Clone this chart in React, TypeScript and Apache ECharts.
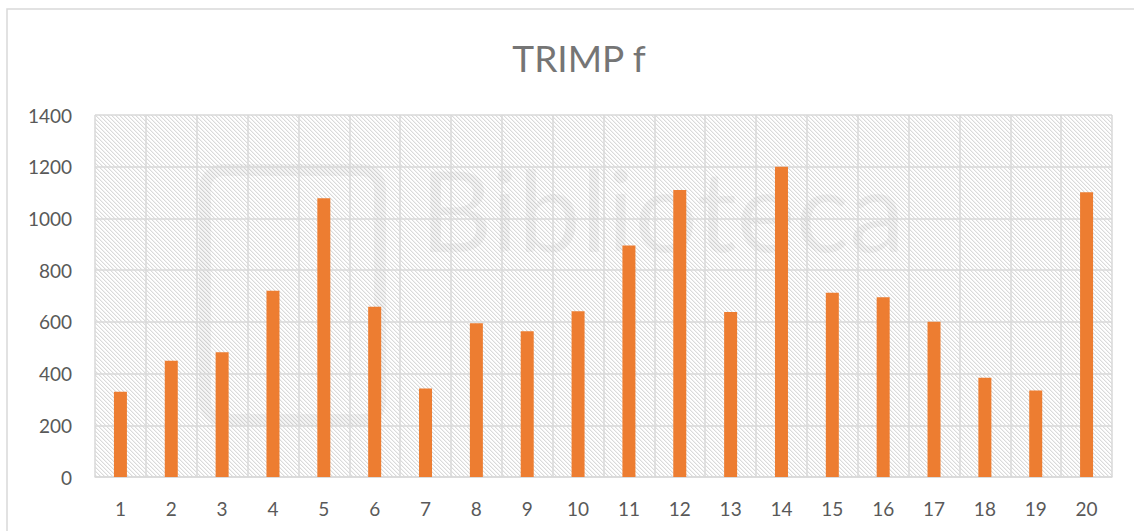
import React, { useEffect, useRef } from "react";
import * as echarts from "echarts";

const categories = ["1","2","3","4","5","6","7","8","9","10","11","12","13","14","15","16","17","18","19","20"];
const trimpValues = [330, 450, 482, 720, 1078, 658, 342, 595, 564, 641, 895, 1110, 638, 1200, 713, 695, 600, 384, 335, 1101];
const yTicks = { min: 0, max: 1400, interval: 200 };
const titleText = "TRIMP f";

function makeHatch(): HTMLCanvasElement {
  const c = document.createElement("canvas");
  c.width = 4;
  c.height = 4;
  const ctx = c.getContext("2d")!;
  ctx.fillStyle = "#ffffff";
  ctx.fillRect(0, 0, 4, 4);
  ctx.fillStyle = "#dadada";
  for (let i = 0; i < 4; i++) {
    ctx.fillRect(i, i, 1, 1);
  }
  ctx.fillStyle = "#f1f1f1";
  for (let i = 0; i < 4; i++) {
    ctx.fillRect((i + 1) % 4, i, 1, 1);
  }
  return c;
}

export default function App() {
  const ref = useRef<HTMLDivElement>(null);
  useEffect(() => {
    if (!ref.current) return;
    const chart = echarts.init(ref.current, null, { renderer: "svg" });
    const hatch = makeHatch();
    chart.setOption({
      animation: false,
      backgroundColor: "#ffffff",
      title: {
        text: titleText,
        left: 574,
        top: 34,
        textAlign: "center",
        textStyle: {
          fontFamily: "Lato, 'Open Sans', sans-serif",
          fontSize: 37,
          fontWeight: "normal",
          color: "#757575",
        },
      },
      graphic: [
        {
          type: "rect",
          shape: { x: 7, y: 9, width: 1150, height: 560 },
          style: { fill: "none", stroke: "#d9d9d9", lineWidth: 1.5 },
          silent: true,
          z: -10,
        },
        {
          type: "text",
          left: 420,
          top: 152,
          style: {
            text: "Biblioteca",
            fontSize: 112,
            fontFamily: "Lato, 'Open Sans', sans-serif",
            fill: "rgba(0,0,0,0.045)",
          },
          silent: true,
          z: 0,
        },
        {
          type: "rect",
          shape: { x: 205, y: 170, width: 175, height: 250, r: 18 },
          style: { fill: "none", stroke: "rgba(0,0,0,0.04)", lineWidth: 12 },
          silent: true,
          z: 0,
        },
      ],
      grid: {
        left: 95,
        right: 22,
        top: 115,
        bottom: 54,
        show: true,
        borderWidth: 0,
        backgroundColor: { image: hatch, repeat: "repeat" },
      },
      xAxis: {
        type: "category",
        data: categories,
        boundaryGap: true,
        axisLine: { show: true, lineStyle: { color: "#d9d9d9", width: 1.5 } },
        axisTick: { show: false },
        splitLine: { show: true, lineStyle: { color: "#d9d9d9", width: 1.5 } },
        axisLabel: {
          margin: 22,
          fontSize: 19,
          color: "#595959",
          fontFamily: "Lato, 'Open Sans', sans-serif",
        },
      },
      yAxis: {
        type: "value",
        min: yTicks.min,
        max: yTicks.max,
        interval: yTicks.interval,
        axisLine: { show: false },
        axisTick: { show: false },
        splitLine: { show: true, lineStyle: { color: "#d9d9d9", width: 1.5 } },
        axisLabel: {
          margin: 23,
          fontSize: 19,
          color: "#595959",
          fontFamily: "Lato, 'Open Sans', sans-serif",
          formatter: (v: number) => String(v),
        },
      },
      series: [
        {
          type: "bar",
          data: trimpValues,
          barWidth: 13,
          itemStyle: { color: "#ed7d31" },
          z: 5,
        },
      ],
    });
    return () => chart.dispose();
  }, []);
  return <div ref={ref} style={{ width: 1134, height: 531, position: "absolute", left: 0, top: 0 }} />;
}
